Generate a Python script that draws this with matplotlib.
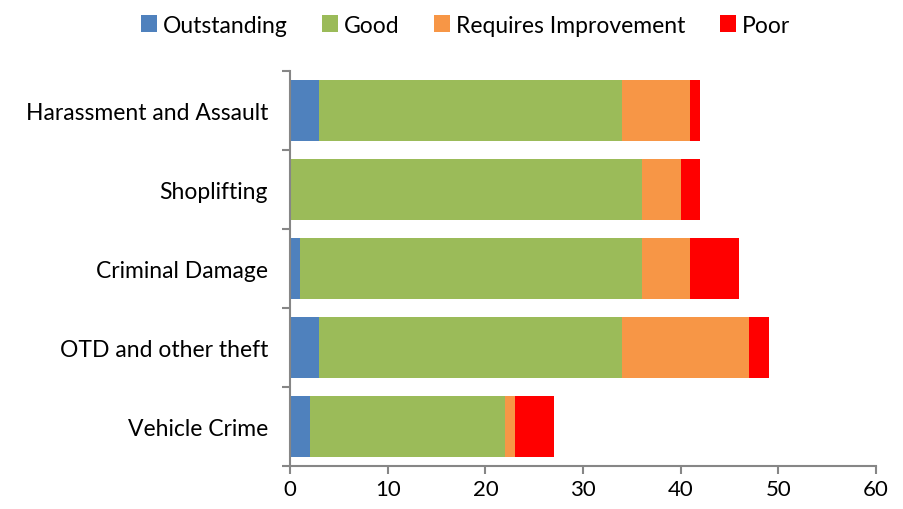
import matplotlib.pyplot as plt
import numpy as np

categories = ['Harassment and Assault', 'Shoplifting', 'Criminal Damage',
              'OTD and other theft', 'Vehicle Crime']
outstanding = [3, 0, 1, 3, 2]
good = [31, 36, 35, 31, 20]
requires_improvement = [7, 4, 5, 13, 1]
poor = [1, 2, 5, 2, 4]

series = [('Outstanding', outstanding, '#4f81bd'),
          ('Good', good, '#9bbb59'),
          ('Requires Improvement', requires_improvement, '#f79646'),
          ('Poor', poor, '#ff0000')]

plt.rcParams['font.family'] = ['Lato', 'DejaVu Sans']

fig = plt.figure(figsize=(9.04, 5.10), dpi=100)
ax = fig.add_axes([0.321, 0.084, 0.648, 0.775])

y = np.arange(len(categories))
left = np.zeros(len(categories))
for name, vals, color in series:
    ax.barh(y, vals, left=left, height=0.78, color=color, label=name)
    left += np.array(vals)

ax.set_ylim(len(categories) - 0.5, -0.5)
ax.set_xlim(0, 60)
ax.set_xticks(range(0, 61, 10))
ax.set_yticks(y)
ax.set_yticklabels(categories)
ax.set_yticks(np.arange(-0.5, len(categories), 1), minor=True)
ax.tick_params(axis='y', which='major', length=0, pad=16, labelsize=16.5)
ax.tick_params(axis='y', which='minor', length=6, color='#868686', width=1.5)
ax.tick_params(axis='x', length=6, color='#868686', width=1.5, labelsize=16)

for s in ['top', 'right']:
    ax.spines[s].set_visible(False)
for s in ['left', 'bottom']:
    ax.spines[s].set_color('#868686')
    ax.spines[s].set_linewidth(1.5)

ax.legend(loc='upper center', bbox_to_anchor=(0.515, 1.01),
          bbox_transform=fig.transFigure, ncol=4, frameon=False, fontsize=16.5,
          handlelength=0.7, handleheight=0.7, handletextpad=0.25, columnspacing=1.5)

fig.savefig('out.png', dpi=100)
